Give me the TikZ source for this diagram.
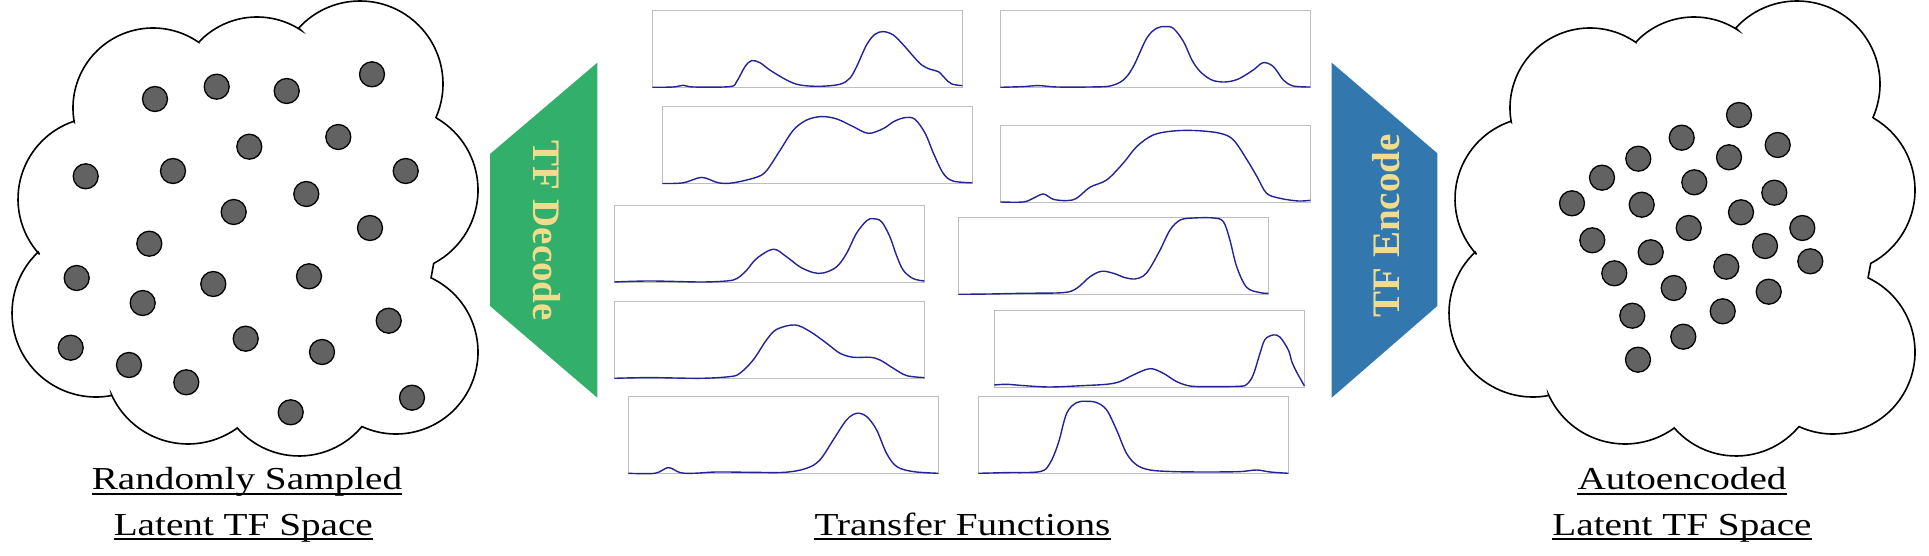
\documentclass[tikz,border=0pt]{standalone}
\usepackage{fontspec}
\usepackage{graphicx}
\setmainfont{Liberation Serif}
\usetikzlibrary{calc}
\definecolor{dotgray}{RGB}{98,98,98}
\definecolor{decgreen}{RGB}{51,175,108}
\definecolor{encblue}{RGB}{50,120,175}
\definecolor{tfyellow}{RGB}{240,220,140}
\definecolor{boxgray}{RGB}{190,190,190}
\definecolor{curveblue}{RGB}{35,35,150}
\tikzset{
  cloudline/.style={draw=black, fill=white, line width=1.6bp, line join=miter},
  tfdot/.style={fill=dotgray, draw=black, line width=1.3bp},
  boxline/.style={draw=boxgray, line width=1.3bp},
  curveline/.style={draw=curveblue, line width=1.4bp, line join=round},
  lab/.style={inner sep=0pt, anchor=base, font=\fontsize{32bp}{38bp}\selectfont},
  ulline/.style={line width=1.8bp},
  codertext/.style={inner sep=0pt, text=tfyellow, font=\fontsize{39bp}{45bp}\selectfont\bfseries}
}
\newcommand{\cloudshape}{%
  \filldraw[cloudline]
    ($(153,108)+(170:80)$) arc[start angle=170,end angle=305,radius=80]
    -- ($(257,97)+(223.5:80)$) arc[start angle=223.5,end angle=303.3,radius=80]
    -- ($(360,84)+(222.5:83)$) arc[start angle=222.5,end angle=383.8,radius=83]
    -- ($(395,190)+(300.3:83)$) arc[start angle=300.3,end angle=422.2,radius=83]
    -- ($(396,352)+(295.3:82)$) arc[start angle=295.3,end angle=474.5,radius=82]
    -- ($(299,374)+(40.4:82)$) arc[start angle=40.4,end angle=138.9,radius=82]
    -- ($(188,360)+(54.5:84)$) arc[start angle=54.5,end angle=155.4,radius=84]
    -- ($(96,313)+(79.2:84)$) arc[start angle=79.2,end angle=226.5,radius=84]
    -- ($(100,199)+(137.5:82)$) arc[start angle=137.5,end angle=251.3,radius=82]
    -- cycle;}
\newcommand{\tfplot}[3]{%
  \begin{scope}[shift={(#1,#2)},x=310bp,y=77bp]
    \draw[boxline] (0,0) rectangle (1,1);
    \draw[curveline] plot[smooth,tension=0.55] coordinates {#3};
  \end{scope}}
\begin{document}
\begin{tikzpicture}[x=1bp,y=-1bp]
\fill[white] (0,0) rectangle (1929,556);
\useasboundingbox (0,0) rectangle (1929,556);

% left cloud
\cloudshape
\foreach \x/\y in {155/99,216.7/86.7,286.7/91,372/74.3,249.3/146.7,338.3/137,85.7/176.3,173/171,405.7/171,306.3/194,233.7/212,370/228,149.3/243.7,76.7/278,309/276.3,213.3/284,142.7/303,388.7/320.7,70.7/347.7,245.7/338.7,322/352,129/365,186.3/382.3,412/397.7,290.7/412.3}
  \filldraw[tfdot] (\x,\y) circle[radius=12.5];

% right cloud
\begin{scope}[shift={(1437,0)}]
\cloudshape
\end{scope}
\foreach \x/\y in {1739/115,1681.7/137.7,1777.7/145,1638.3/158.7,1729/157.3,1602/177.7,1694.3/182.3,1572/203.3,1641.7/204.7,1774.3/192.7,1741/212.3,1688.7/228,1802.3/228,1592.3/240.3,1765/246,1650.7/252.3,1810.3/261.3,1614.3/273.3,1726.3/266.7,1673.7/288,1768.7/291.7,1632.3/315.7,1722.7/311.3,1683.3/336.7,1638/359.7}
  \filldraw[tfdot] (\x,\y) circle[radius=12.5];

% decoder / encoder trapezoids
\fill[decgreen] (597.3,62.7) -- (490,154) -- (490,306) -- (597.3,397.7) -- cycle;
\node[codertext, rotate=-90] (dec) at (546.8,230.5) {TF Decode};
\fill[encblue] (1331.7,62.7) -- (1437.3,153.3) -- (1437.3,306) -- (1331.7,397.7) -- cycle;
\node[codertext, rotate=90] (enc) at (1386.5,225.8) {TF Encode};

% transfer function panels
\tfplot{652.3}{87.3}{(0,0) (0.068,0.004) (0.100,0.026) (0.132,0.004) (0.25,0.009) (0.272,0.074) (0.299,0.268) (0.32,0.346) (0.347,0.320) (0.379,0.225) (0.433,0.095) (0.476,0.030) (0.541,0.013) (0.605,0.039) (0.637,0.117) (0.659,0.268) (0.691,0.55) (0.718,0.688) (0.745,0.723) (0.777,0.680) (0.81,0.55) (0.843,0.398) (0.869,0.29) (0.896,0.234) (0.923,0.203) (0.944,0.117) (0.966,0.043) (1.0,0.022)}
\tfplot{662.3}{183.5}{(0,0) (0.068,0.009) (0.127,0.079) (0.181,0.009) (0.229,0.009) (0.305,0.083) (0.337,0.170) (0.380,0.432) (0.423,0.694) (0.466,0.825) (0.514,0.869) (0.563,0.838) (0.616,0.738) (0.665,0.651) (0.714,0.716) (0.746,0.803) (0.783,0.856) (0.815,0.834) (0.848,0.651) (0.875,0.389) (0.907,0.127) (0.939,0.031) (1,0.009)}
\tfplot{614.3}{282.3}{(0,0.004) (0.115,0.017) (0.277,0.004) (0.362,0.017) (0.395,0.048) (0.427,0.157) (0.459,0.309) (0.513,0.43) (0.556,0.330) (0.599,0.2) (0.642,0.126) (0.675,0.122) (0.717,0.2) (0.749,0.374) (0.781,0.635) (0.814,0.8) (0.835,0.826) (0.862,0.787) (0.889,0.591) (0.910,0.352) (0.932,0.157) (0.964,0.048) (1,0.017)}
\tfplot{614.3}{378.3}{(0,0) (0.115,0.009) (0.277,0) (0.373,0.022) (0.405,0.065) (0.448,0.238) (0.491,0.498) (0.524,0.636) (0.583,0.693) (0.632,0.606) (0.685,0.455) (0.728,0.325) (0.771,0.273) (0.825,0.273) (0.857,0.238) (0.9,0.130) (0.943,0.035) (1,0.009)}
\tfplot{628.3}{473.3}{(0,0) (0.086,0) (0.129,0.074) (0.167,0.009) (0.210,0) (0.285,0.017) (0.392,0.013) (0.505,0.013) (0.575,0.065) (0.618,0.173) (0.661,0.433) (0.704,0.693) (0.737,0.779) (0.769,0.736) (0.801,0.563) (0.833,0.260) (0.866,0.087) (0.919,0.022) (1,0)}
\tfplot{1000.3}{87.3}{(0,0) (0.074,0.009) (0.123,0.022) (0.182,0.004) (0.289,0.004) (0.354,0.017) (0.397,0.095) (0.429,0.268) (0.472,0.636) (0.504,0.766) (0.531,0.788) (0.558,0.766) (0.591,0.593) (0.618,0.355) (0.645,0.203) (0.682,0.095) (0.725,0.069) (0.768,0.108) (0.816,0.225) (0.848,0.320) (0.881,0.268) (0.913,0.095) (0.945,0.017) (1,0.004)}
\tfplot{1000.3}{202.3}{(0,0.004) (0.074,0.004) (0.106,0.052) (0.139,0.108) (0.171,0.039) (0.214,0.022) (0.246,0.052) (0.289,0.195) (0.343,0.29) (0.396,0.506) (0.440,0.723) (0.493,0.874) (0.558,0.926) (0.633,0.931) (0.709,0.896) (0.752,0.810) (0.796,0.550) (0.828,0.333) (0.859,0.117) (0.902,0.052) (0.961,0.017) (1,0.026)}
\tfplot{958.3}{294.3}{(0,0) (0.102,0.004) (0.210,0.013) (0.339,0.022) (0.382,0.078) (0.425,0.229) (0.462,0.299) (0.5,0.273) (0.538,0.216) (0.570,0.199) (0.597,0.238) (0.618,0.338) (0.651,0.576) (0.683,0.835) (0.716,0.965) (0.759,0.991) (0.823,0.991) (0.855,0.944) (0.876,0.706) (0.898,0.359) (0.930,0.091) (0.973,0.022) (1,0.013)}
\tfplot{994.3}{387.3}{(0,0.030) (0.040,0.039) (0.094,0.022) (0.179,0.004) (0.287,0.022) (0.362,0.039) (0.405,0.074) (0.448,0.160) (0.502,0.242) (0.545,0.182) (0.588,0.074) (0.631,0.017) (0.685,0.009) (0.79,0.013) (0.815,0.04) (0.835,0.16) (0.857,0.44) (0.873,0.62) (0.9,0.68) (0.922,0.65) (0.949,0.48) (0.96,0.33) (0.975,0.2) (1,0.02)}
\tfplot{978.3}{473.3}{(0,0) (0.091,0.009) (0.199,0.022) (0.231,0.130) (0.258,0.390) (0.285,0.779) (0.317,0.918) (0.349,0.935) (0.382,0.918) (0.414,0.823) (0.446,0.563) (0.478,0.260) (0.511,0.108) (0.554,0.043) (0.629,0.022) (0.737,0.017) (0.844,0.022) (0.898,0.043) (0.941,0.017) (1,0)}

% labels
\foreach \n/\x/\y/\t in {la/247/489.3/Randomly Sampled, lb/243.3/535/Latent TF Space, tf/962.5/535/Transfer Functions, ra/1682/489.3/Autoencoded, rb/1682/535/Latent TF Space}{
  \node[lab] (\n) at (\x,\y) {\scalebox{1.225}[1]{\t}};
  \draw[ulline] ([yshift=-4.3bp]\n.base west) -- ([yshift=-4.3bp]\n.base east);
}
\end{tikzpicture}
\end{document}
